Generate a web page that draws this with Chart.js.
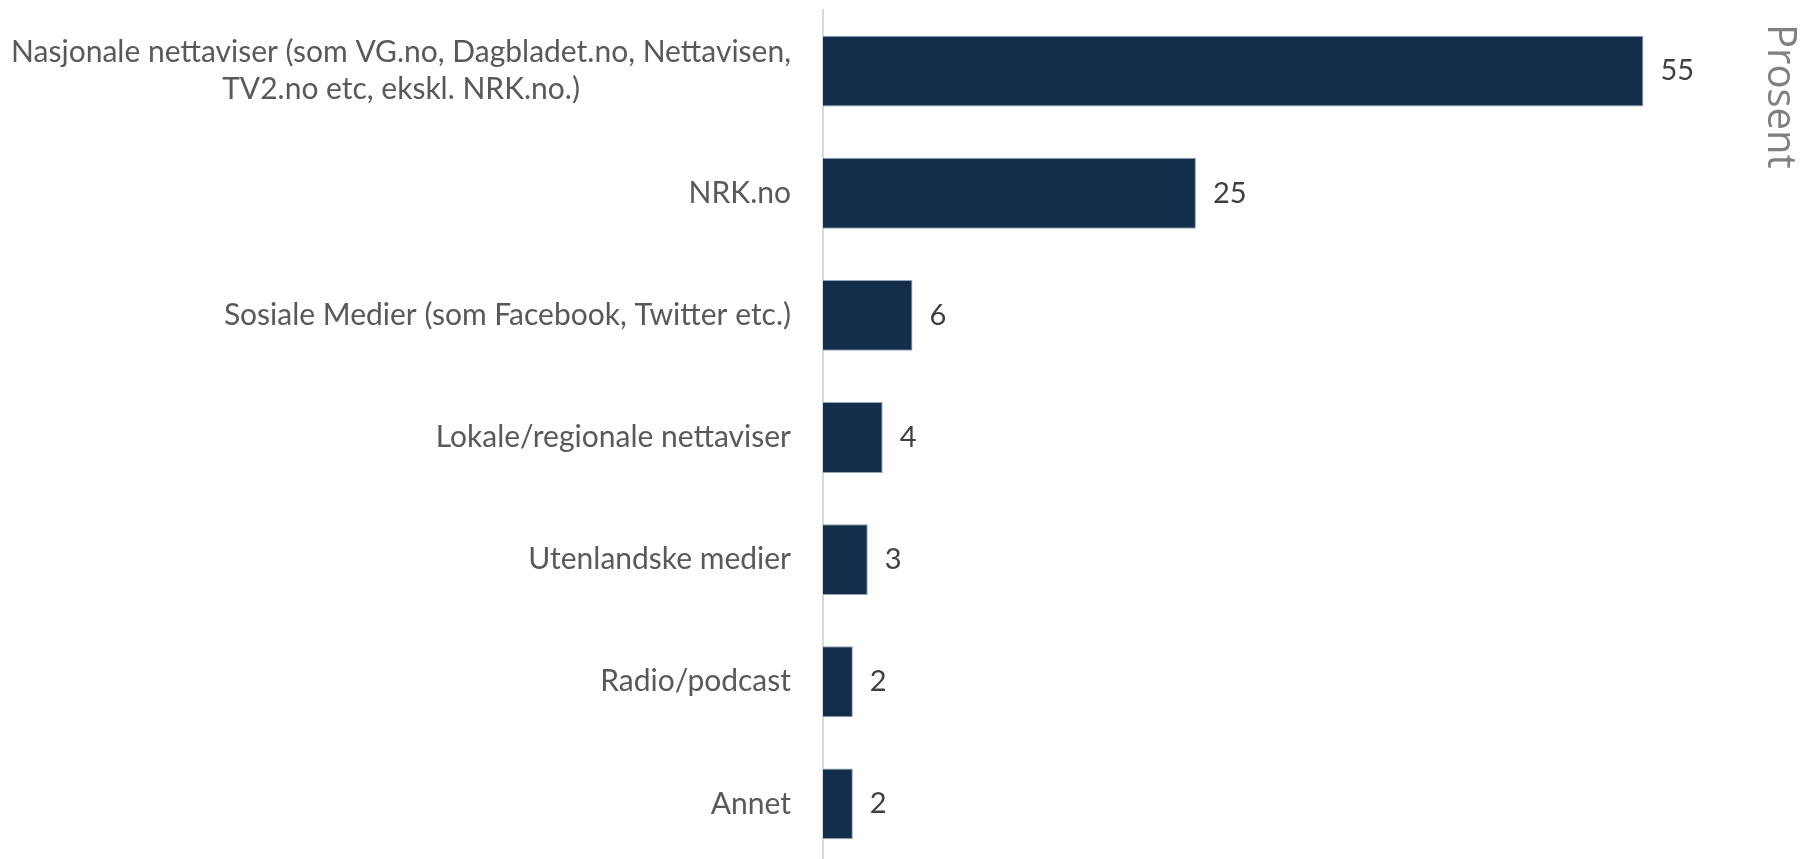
<!DOCTYPE html>
<html>
<head>
<meta charset="utf-8">
<title>Prosent</title>
<script src="https://cdn.jsdelivr.net/npm/chart.js@4.4.1/dist/chart.umd.min.js"></script>
<style>
  html, body { margin: 0; padding: 0; background: #fff; overflow: hidden; }
  canvas { display: block; }
</style>
</head>
<body>
<canvas id="myChart" width="1803" height="865"></canvas>
<script>
// categories, top to bottom; an array means a two-line label
const categories = [
  ['Nasjonale nettaviser (som VG.no, Dagbladet.no, Nettavisen,', 'TV2.no etc, ekskl. NRK.no.)'],
  'NRK.no',
  'Sosiale Medier (som Facebook, Twitter etc.)',
  'Lokale/regionale nettaviser',
  'Utenlandske medier',
  'Radio/podcast',
  'Annet'
];
const percentValues = [55, 25, 6, 4, 3, 2, 2];
const axisTitle = 'Prosent';
const xMax = 60;

const LABEL_FONT = '30px Lato';
const LINE_HEIGHT = 37;

// category names: right aligned next to the axis, wrapped lines centred in their block
const categoryLabels = {
  id: 'categoryLabels',
  afterDraw(chart) {
    const ctx = chart.ctx;
    const yScale = chart.scales.y;
    const right = yScale.right - 32;
    ctx.save();
    ctx.font = LABEL_FONT;
    ctx.fillStyle = '#595959';
    ctx.textBaseline = 'middle';
    ctx.textAlign = 'center';
    categories.forEach((label, i) => {
      const lines = Array.isArray(label) ? label : [label];
      const widest = Math.max(...lines.map(l => ctx.measureText(l).width));
      const cx = right - widest / 2;
      const y = yScale.getPixelForTick(i);
      lines.forEach((line, j) => {
        ctx.fillText(line, cx, y + (j - (lines.length - 1) / 2) * LINE_HEIGHT);
      });
    });
    ctx.restore();
  }
};

// value at the end of each bar
const valueLabels = {
  id: 'valueLabels',
  afterDatasetsDraw(chart) {
    const ctx = chart.ctx;
    ctx.save();
    ctx.font = '29px Lato';
    ctx.fillStyle = '#404040';
    ctx.textBaseline = 'middle';
    ctx.textAlign = 'left';
    chart.getDatasetMeta(0).data.forEach((bar, i) => {
      ctx.fillText(String(percentValues[i]), bar.x + 17, bar.y);
    });
    ctx.restore();
  }
};

// rotated unit title in the top right corner
const unitTitle = {
  id: 'unitTitle',
  afterDraw(chart) {
    const ctx = chart.ctx;
    ctx.save();
    ctx.translate(1768, 24);
    ctx.rotate(Math.PI / 2);
    ctx.font = '40px "Open Sans"';
    ctx.fillStyle = '#808080';
    ctx.textAlign = 'left';
    ctx.textBaseline = 'alphabetic';
    ctx.fillText(axisTitle, 0, 0);
    ctx.restore();
  }
};

Chart.defaults.font.family = 'Lato';

const ctx = document.getElementById('myChart');
new Chart(ctx, {
  type: 'bar',
  data: {
    labels: categories,
    datasets: [{
      data: percentValues,
      backgroundColor: '#122e4b',
      borderColor: 'rgba(135, 155, 178, 0.9)',
      borderWidth: 1,
      barPercentage: 0.58,
      categoryPercentage: 1
    }]
  },
  options: {
    indexAxis: 'y',
    responsive: false,
    animation: false,
    devicePixelRatio: 1,
    layout: {
      padding: { top: 10, right: 85, bottom: 0, left: 0 }
    },
    plugins: {
      legend: { display: false },
      tooltip: { enabled: false }
    },
    scales: {
      x: {
        display: false,
        min: 0,
        max: xMax
      },
      y: {
        grid: { display: false, drawTicks: false },
        ticks: { display: false },
        border: { display: true, color: '#d9d9d9', width: 2 },
        afterFit(scale) {
          scale.width = 823;
        }
      }
    }
  },
  plugins: [categoryLabels, valueLabels, unitTitle]
});
</script>
</body>
</html>
